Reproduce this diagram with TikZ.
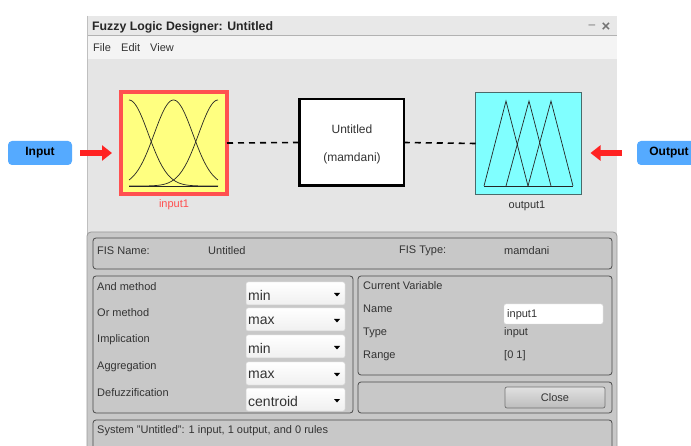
\documentclass[tikz,border=0pt]{standalone}
\usepackage{fontspec}
\setmainfont{Liberation Sans}
\usetikzlibrary{arrows.meta}
\definecolor{titlebg}{HTML}{E8E8E8}
\definecolor{menubg}{HTML}{F4F4F4}
\definecolor{areabg}{HTML}{E5E5E5}
\definecolor{panelbg}{HTML}{C8C8C8}
\definecolor{panelline}{HTML}{4A4A4A}
\definecolor{txt}{HTML}{333333}
\definecolor{boxred}{HTML}{FF5050}
\definecolor{arrred}{HTML}{FF2222}
\definecolor{inyellow}{HTML}{FFFF80}
\definecolor{outcyan}{HTML}{80FFFF}
\definecolor{outline}{HTML}{4A6A6A}
\definecolor{lblblue}{HTML}{55AAFF}
\tikzset{
  uitext/.style={anchor=west, inner sep=0pt, text=txt, font=\fontsize{11}{13}\selectfont},
  panelbox/.style={draw=panelline, line width=0.8pt, rounded corners=3pt},
  dropbox/.style={draw=black!18, top color=white, bottom color=black!6, rounded corners=2pt, line width=0.5pt},
  droptext/.style={anchor=west, inner sep=0pt, text=txt, font=\fontsize{14}{16}\selectfont},
  sidelabel/.style={fill=lblblue, rounded corners=4pt, minimum width=64pt, minimum height=24pt, inner sep=0pt, text=black, font=\fontsize{12}{14}\selectfont\bfseries},
  redarrow/.style={draw=arrred, line width=6.5pt, -{Triangle[length=10pt,width=15pt]}},
  link/.style={line width=1.6pt, dash pattern=on 6pt off 5pt},
  mf/.style={line width=0.7pt, black!85},
  boxtext/.style={text=txt, inner sep=0pt, font=\fontsize{12}{14}\selectfont},
}
\begin{document}
\begin{tikzpicture}[x=1pt,y=-1pt]
\clip (0,0) rectangle (691,446);
\fill[white] (0,0) rectangle (691,446);
% window frame
\fill[titlebg] (87,16) rectangle (617,36);
\fill[menubg] (87,36) rectangle (617,59);
\draw[black!30, line width=1pt] (87,36) -- (617,36);
\fill[areabg] (87,59) rectangle (617,446);
\draw[black!25, line width=1pt] (87,16) -- (87,446);
\node[anchor=west, inner sep=0pt, text=black!85, font=\fontsize{12.3}{14}\selectfont\bfseries] (title) at (92,27) {Fuzzy Logic Designer: Untitled};
\node[inner sep=0pt, text=black!55, font=\fontsize{12}{13}\selectfont] (minbtn) at (592,27) {–};
\node[inner sep=0pt, text=black!55, font=\fontsize{15}{13}\selectfont\bfseries] (closebtn) at (606,27) {×};
\node[uitext] (mfile) at (93,48) {File};
\node[uitext] (medit) at (121,48) {Edit};
\node[uitext] (mview) at (150,48) {View};

% input box
\node[draw=boxred, line width=4pt, fill=inyellow, minimum width=106pt, minimum height=102pt, inner sep=0pt, outer sep=0pt] (inbox) at (174,143) {};
\draw[mf] plot[domain=129:218, samples=60] (\x, {186-86*exp(-((\x-129)^2)/(2*19.3^2))});
\draw[mf] plot[domain=129:218, samples=60] (\x, {186-86*exp(-((\x-173.5)^2)/(2*19.3^2))});
\draw[mf] plot[domain=129:218, samples=60] (\x, {186-86*exp(-((\x-218)^2)/(2*19.3^2))});
\draw[mf] (129,186) -- (218,186);
\node[text=boxred, inner sep=0pt, font=\fontsize{11}{13}\selectfont] (inname) at (174,205) {input1};

% middle box
\node[draw=black, line width=2.5pt, fill=white, minimum width=104.5pt, minimum height=86.5pt, inner sep=0pt, outer sep=0pt] (midbox) at (351.5,142.5) {};
\node[boxtext] (midname) at (352,129) {Untitled};
\node[boxtext] (midtype) at (352,158) {(mamdani)};

% output box
\node[draw=outline, line width=0.8pt, fill=outcyan, minimum width=106pt, minimum height=102pt, inner sep=0pt, outer sep=0pt] (outbox) at (528.5,143.5) {};
\draw[mf, line join=miter] (484,186) -- (506,101) -- (528,186);
\draw[mf, line join=miter] (506,186) -- (529,101) -- (551,186);
\draw[mf, line join=miter] (528,186) -- (551,101) -- (573,186);
\draw[mf] (484,186) -- (573,186);
\node[text=txt, inner sep=0pt, font=\fontsize{11}{13}\selectfont] (outname) at (527,206) {output1};

% connectors
\draw[link] (inbox.east) -- (midbox.west);
\draw[link] (midbox.east) -- (outbox.west);

% side labels and arrows
\node[sidelabel] (inlbl) at (40,153) {Input};
\node[sidelabel] (outlbl) at (669,153) {Output};
\draw[redarrow] ([xshift=8pt]inlbl.east) -- ([xshift=-9pt]inbox.west |- inlbl.east);
\draw[redarrow] ([xshift=-15pt]outlbl.west) -- ([xshift=9pt]outbox.east |- outlbl.west);

% lower panel
\draw[fill=panelbg, draw=black!40, line width=0.8pt, rounded corners=4pt] (87,232) rectangle (617,470);
\draw[panelbox] (93,238) rectangle (612,269);
\node[uitext] (fisname) at (97,251) {FIS Name:};
\node[uitext] (fisnameval) at (208,251) {Untitled};
\node[uitext] (fistype) at (399,251) {FIS Type:};
\node[uitext] (fistypeval) at (504,251) {mamdani};

% methods panel
\draw[panelbox] (93,276) rectangle (353,413);
\node[uitext] (andm) at (97,287) {And method};
\node[uitext] (orm) at (97,313) {Or method};
\node[uitext] (impm) at (97,340) {Implication};
\node[uitext] (aggm) at (97,367) {Aggregation};
\node[uitext] (defm) at (97,393) {Defuzzification};
\foreach \yy/\val [count=\i] in {282/min,308/max,335/min,362/max,388/centroid}{
  \draw[dropbox] (246,\yy) rectangle (345,\yy+23);
  \node[droptext] (dd\i) at (248,\yy+13) {\val};
  \fill[black] (334,\yy+11) -- (340,\yy+11) -- (337,\yy+14.5) -- cycle;
}

% current variable panel
\draw[panelbox] (358,276) rectangle (612,375);
\node[uitext] (curvar) at (363,286) {Current Variable};
\node[uitext] (vname) at (363,309) {Name};
\node[uitext] (vtype) at (363,333) {Type};
\node[uitext] (vrange) at (363,356) {Range};
\draw[fill=white, draw=black!15, rounded corners=2pt] (504,304) rectangle (603,324);
\node[uitext] (vnameval) at (507,315) {input1};
\node[uitext] (vtypeval) at (504,333) {input};
\node[uitext] (vrangeval) at (504,356) {[0 1]};

% close panel
\draw[panelbox] (358,382) rectangle (612,413);
\draw[top color=black!12, bottom color=black!26, draw=black!55, line width=0.7pt, rounded corners=2pt] (505,387) rectangle (605,408);
\node[text=txt, inner sep=0pt, font=\fontsize{11}{13}\selectfont] (closeb) at (555,397.5) {Close};

% status panel
\draw[panelbox] (93,420) rectangle (612,470);
\node[uitext] (status) at (97,431) {System "Untitled": 1 input, 1 output, and 0 rules};
\end{tikzpicture}
\end{document}
